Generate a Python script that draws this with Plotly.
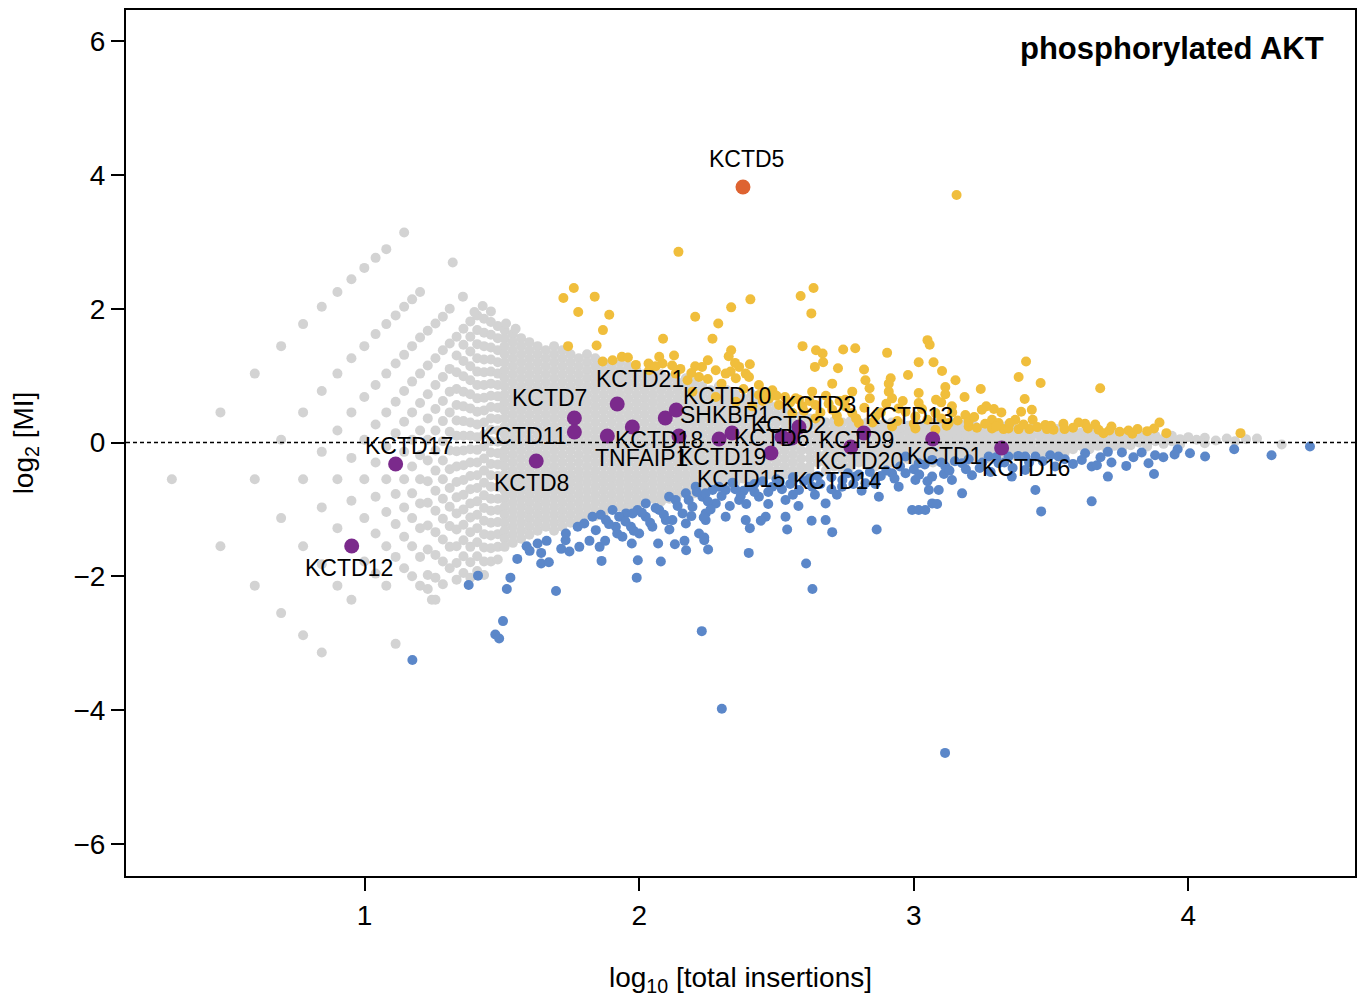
import plotly.graph_objects as go

FONT = "Liberation Sans, Arial, sans-serif"

# ---------------- grey (non-significant) genes, read column by column ----------------
grey_col_x = [0.298, 0.475, 0.600, 0.696, 0.776, 0.844, 0.901, 0.952, 0.999, 1.040,
              1.079, 1.113, 1.144, 1.173, 1.202,
              1.230, 1.258, 1.285, 1.310, 1.335, 1.360, 1.385, 1.410, 1.435, 1.460, 1.485,
              1.51, 1.54, 1.57, 1.60, 1.63, 1.66, 1.69, 1.72, 1.75, 1.78,
              1.81, 1.84, 1.87, 1.90, 1.93, 1.96, 1.99, 2.02, 2.05, 2.08,
              2.11, 2.14, 2.17, 2.20, 2.23, 2.26, 2.29, 2.32, 2.35, 2.38,
              2.41, 2.44, 2.47, 2.50, 2.53, 2.56, 2.59, 2.62, 2.65, 2.68,
              2.71, 2.74, 2.77, 2.80, 2.83,
              2.86, 2.89, 2.92, 2.95, 2.98, 3.01, 3.04, 3.07, 3.10, 3.13,
              3.16, 3.19, 3.22, 3.25, 3.28, 3.31, 3.34, 3.37, 3.40, 3.43,
              3.46, 3.49, 3.52, 3.55, 3.58, 3.61, 3.64, 3.67, 3.70, 3.73,
              3.76, 3.79, 3.82, 3.85, 3.88, 3.91, 3.94, 3.97, 4.00, 4.03,
              4.06, 4.10, 4.14, 4.17, 4.21, 4.25, 4.34]
grey_col_y = [
    [-0.55],
    [0.45, -1.55],
    [1.03, -0.55, -2.14],
    [1.44, 0.04, -1.13, -2.55],
    [1.77, 0.45, -0.55, -1.55, -2.88],
    [2.03, 0.77, -0.14, -0.97, -1.82, -3.14],
    [2.25, 1.03, 0.18, -0.55, -1.28, -2.14],
    [2.44, 1.26, 0.45, -0.23, -0.87, -2.35],
    [2.61, 1.44, 0.68, 0.04, -0.55, -1.13, -1.78],
    [2.76, 1.62, 0.86, 0.27, -0.30, -0.81, -1.36, -1.96],
    [2.89, 1.77, 1.03, 0.45, -0.06, -0.55, -1.04, -1.55, -2.14],
    [1.90, 1.18, 0.61, 0.14, -0.77, -1.22, -1.71, -3.01],
    [3.14, 2.03, 1.31, 0.77, 0.31, -0.14, -0.55, -0.97, -1.41, -1.88],
    [2.14, 1.44, 0.91, 0.45, 0.04, -0.36, -0.76, -1.13, -1.55, -2.00],
    [2.25, 1.57, 1.03, 0.59, 0.18, -0.19, -0.55, -0.91, -1.28, -1.71, -2.14],
    [1.67, 1.15, 0.72, 0.36, 0.04, -0.27, -0.58, -0.90, -1.24, -1.60, -1.98, -2.19],
    [1.78, 1.26, 0.86, 0.50, 0.18, -0.12, -0.42, -0.72, -1.02, -1.34, -1.68, -2.02, -2.35],
    [1.88, 1.38, 0.98, 0.62, 0.32, 0.02, -0.27, -0.55, -0.84, -1.14, -1.45, -1.78, -2.12],
    [2.00, 1.48, 1.10, 0.76, 0.45, 0.16, -0.12, -0.40, -0.68, -0.96, -1.25, -1.56, -1.88],
    [1.58, 1.30, 1.05, 0.80, 0.56, 0.33, 0.10, -0.13, -0.36, -0.59, -0.82, -1.06, -1.30, -1.55, -1.80, -2.05],
    [1.70, 1.46, 1.22, 0.99, 0.76, 0.54, 0.32, 0.10, -0.12, -0.34, -0.56, -0.78, -1.00, -1.23, -1.46, -1.70, -1.95],
    [1.81, 1.58, 1.36, 1.14, 0.93, 0.72, 0.51, 0.30, 0.10, -0.10, -0.30, -0.50, -0.70, -0.91, -1.12, -1.34, -1.56, -1.79, -2.02],
    [1.90, 1.68, 1.47, 1.26, 1.06, 0.86, 0.66, 0.46, 0.27, 0.08, -0.11, -0.30, -0.49, -0.68, -0.88, -1.08, -1.28, -1.49, -1.70, -1.92],
    [1.85, 1.64, 1.44, 1.24, 1.05, 0.86, 0.67, 0.48, 0.30, 0.12, -0.06, -0.24, -0.42, -0.60, -0.79, -0.98, -1.17, -1.37, -1.57, -1.78, -1.98],
    [1.80, 1.61, 1.42, 1.24, 1.06, 0.88, 0.70, 0.53, 0.36, 0.19, 0.02, -0.15, -0.32, -0.49, -0.66, -0.84, -1.02, -1.20, -1.39, -1.58, -1.78],
    [1.74, 1.56, 1.38, 1.20, 1.03, 0.86, 0.69, 0.52, 0.35, 0.18, 0.01, -0.16, -0.33, -0.50, -0.67, -0.84, -1.01, -1.19, -1.37, -1.56, -1.75],
    [1.68, 1.56, 1.44, 1.32, 1.2, 1.08, 0.96, 0.84, 0.72, 0.6, 0.48, 0.36, 0.24, 0.12, 0, -0.12, -0.24, -0.36, -0.48, -0.6, -0.72, -0.84, -0.96, -1.08, -1.2, -1.32, -1.44, -1.56],
    [1.62, 1.5, 1.38, 1.26, 1.14, 1.02, 0.9, 0.78, 0.66, 0.54, 0.42, 0.3, 0.18, 0.06, -0.06, -0.18, -0.3, -0.42, -0.54, -0.66, -0.78, -0.9, -1.02, -1.14, -1.26, -1.38, -1.5],
    [1.56, 1.44, 1.32, 1.2, 1.08, 0.96, 0.84, 0.72, 0.6, 0.48, 0.36, 0.24, 0.12, 0, -0.12, -0.24, -0.36, -0.48, -0.6, -0.72, -0.84, -0.96, -1.08, -1.2, -1.32, -1.44],
    [1.5, 1.38, 1.26, 1.14, 1.02, 0.9, 0.78, 0.66, 0.54, 0.42, 0.3, 0.18, 0.06, -0.06, -0.18, -0.3, -0.42, -0.54, -0.66, -0.78, -0.9, -1.02, -1.14, -1.26, -1.38],
    [1.44, 1.32, 1.2, 1.08, 0.96, 0.84, 0.72, 0.6, 0.48, 0.36, 0.24, 0.12, 0, -0.12, -0.24, -0.36, -0.48, -0.6, -0.72, -0.84, -0.96, -1.08, -1.2, -1.32],
    [1.38, 1.26, 1.14, 1.02, 0.9, 0.78, 0.66, 0.54, 0.42, 0.3, 0.18, 0.06, -0.06, -0.18, -0.3, -0.42, -0.54, -0.66, -0.78, -0.9, -1.02, -1.14, -1.26],
    [1.44, 1.32, 1.2, 1.08, 0.96, 0.84, 0.72, 0.6, 0.48, 0.36, 0.24, 0.12, 0, -0.12, -0.24, -0.36, -0.48, -0.6, -0.72, -0.84, -0.96, -1.08, -1.2, -1.32],
    [1.38, 1.26, 1.14, 1.02, 0.9, 0.78, 0.66, 0.54, 0.42, 0.3, 0.18, 0.06, -0.06, -0.18, -0.3, -0.42, -0.54, -0.66, -0.78, -0.9, -1.02, -1.14, -1.26],
    [1.32, 1.2, 1.08, 0.96, 0.84, 0.72, 0.6, 0.48, 0.36, 0.24, 0.12, 0, -0.12, -0.24, -0.36, -0.48, -0.6, -0.72, -0.84, -0.96, -1.08, -1.2],
    [1.26, 1.14, 1.02, 0.9, 0.78, 0.66, 0.54, 0.42, 0.3, 0.18, 0.06, -0.06, -0.18, -0.3, -0.42, -0.54, -0.66, -0.78, -0.9, -1.02, -1.14],
    [1.32, 1.2, 1.08, 0.96, 0.84, 0.72, 0.6, 0.48, 0.36, 0.24, 0.12, 0, -0.12, -0.24, -0.36, -0.48, -0.6, -0.72, -0.84, -0.96, -1.08],
    [1.26, 1.14, 1.02, 0.9, 0.78, 0.66, 0.54, 0.42, 0.3, 0.18, 0.06, -0.06, -0.18, -0.3, -0.42, -0.54, -0.66, -0.78, -0.9, -1.02, -1.1],
    [1.2, 1.08, 0.96, 0.84, 0.72, 0.6, 0.48, 0.36, 0.24, 0.12, 0, -0.12, -0.24, -0.36, -0.48, -0.6, -0.72, -0.84, -0.96, -1.06],
    [1.14, 1.02, 0.9, 0.78, 0.66, 0.54, 0.42, 0.3, 0.18, 0.06, -0.06, -0.18, -0.3, -0.42, -0.54, -0.66, -0.78, -0.9, -1.0],
    [1.2, 1.08, 0.96, 0.84, 0.72, 0.6, 0.48, 0.36, 0.24, 0.12, 0, -0.12, -0.24, -0.36, -0.48, -0.6, -0.72, -0.84, -0.96],
    [1.14, 1.02, 0.9, 0.78, 0.66, 0.54, 0.42, 0.3, 0.18, 0.06, -0.06, -0.18, -0.3, -0.42, -0.54, -0.66, -0.78, -0.9, -0.98],
    [1.08, 0.96, 0.84, 0.72, 0.6, 0.48, 0.36, 0.24, 0.12, 0, -0.12, -0.24, -0.36, -0.48, -0.6, -0.72, -0.84, -0.94],
    [1.02, 0.9, 0.78, 0.66, 0.54, 0.42, 0.3, 0.18, 0.06, -0.06, -0.18, -0.3, -0.42, -0.54, -0.66, -0.78, -0.9],
    [1.08, 0.96, 0.84, 0.72, 0.6, 0.48, 0.36, 0.24, 0.12, 0, -0.12, -0.24, -0.36, -0.48, -0.6, -0.72, -0.84],
    [1.02, 0.9, 0.78, 0.66, 0.54, 0.42, 0.3, 0.18, 0.06, -0.06, -0.18, -0.3, -0.42, -0.54, -0.66, -0.78, -0.88],
    [0.96, 0.84, 0.72, 0.6, 0.48, 0.36, 0.24, 0.12, 0, -0.12, -0.24, -0.36, -0.48, -0.6, -0.72, -0.84],
    [0.9, 0.78, 0.66, 0.54, 0.42, 0.3, 0.18, 0.06, -0.06, -0.18, -0.3, -0.42, -0.54, -0.66, -0.78],
    [0.96, 0.84, 0.72, 0.6, 0.48, 0.36, 0.24, 0.12, 0, -0.12, -0.24, -0.36, -0.48, -0.6, -0.72],
    [0.9, 0.78, 0.66, 0.54, 0.42, 0.3, 0.18, 0.06, -0.06, -0.18, -0.3, -0.42, -0.54, -0.66, -0.76],
    [0.84, 0.72, 0.6, 0.48, 0.36, 0.24, 0.12, 0, -0.12, -0.24, -0.36, -0.48, -0.6, -0.72],
    [0.78, 0.66, 0.54, 0.42, 0.3, 0.18, 0.06, -0.06, -0.18, -0.3, -0.42, -0.54, -0.66],
    [0.84, 0.72, 0.6, 0.48, 0.36, 0.24, 0.12, 0, -0.12, -0.24, -0.36, -0.48, -0.6],
    [0.78, 0.66, 0.54, 0.42, 0.3, 0.18, 0.06, -0.06, -0.18, -0.3, -0.42, -0.54, -0.64],
    [0.72, 0.6, 0.48, 0.36, 0.24, 0.12, 0, -0.12, -0.24, -0.36, -0.48, -0.6],
    [0.66, 0.54, 0.42, 0.3, 0.18, 0.06, -0.06, -0.18, -0.3, -0.42, -0.54],
    [0.72, 0.6, 0.48, 0.36, 0.24, 0.12, 0, -0.12, -0.24, -0.36, -0.48, -0.58],
    [0.66, 0.54, 0.42, 0.3, 0.18, 0.06, -0.06, -0.18, -0.3, -0.42, -0.54],
    [0.6, 0.48, 0.36, 0.24, 0.12, 0, -0.12, -0.24, -0.36, -0.48],
    [0.54, 0.42, 0.3, 0.18, 0.06, -0.06, -0.18, -0.3, -0.42, -0.52],
    [0.5, 0.4, 0.3, 0.2, 0.1, 0, -0.12, -0.24, -0.36, -0.48],
    [0.42, 0.3, 0.18, 0.06, -0.06, -0.18, -0.3, -0.42],
    [0.4, 0.3, 0.2, 0.1, 0, -0.12, -0.24, -0.36, -0.46],
    [0.36, 0.24, 0.12, 0, -0.12, -0.24, -0.36, -0.42],
    [0.34, 0.24, 0.14, 0.04, -0.06, -0.18, -0.3],
    [0.3, 0.18, 0.06, -0.06, -0.18, -0.3, -0.42],
    [0.32, 0.22, 0.12, 0, -0.12, -0.24, -0.36],
    [0.3, 0.18, 0.06, -0.06, -0.18, -0.3, -0.4],
    [0.32, 0.22, 0.12, 0, -0.12, -0.24, -0.36],
    [0.3, 0.18, 0.06, -0.06, -0.18, -0.3],
    [0.3, 0.2, 0.1, 0, -0.12, -0.24, -0.34],
    [0.3, 0.2, 0.1, 0.0, -0.1, -0.2, -0.3, -0.36],
    [0.28, 0.18, 0.08, -0.02, -0.12, -0.22, -0.32],
    [0.3, 0.2, 0.1, 0.0, -0.1, -0.2, -0.3],
    [0.28, 0.18, 0.08, -0.02, -0.12, -0.22, -0.32],
    [0.25, 0.15, 0.05, -0.05, -0.15, -0.25],
    [0.3, 0.2, 0.1, 0, -0.1, -0.2, -0.3],
    [0.25, 0.15, 0.05, -0.05, -0.15, -0.25],
    [0.3, 0.2, 0.1, 0, -0.1, -0.2, -0.3],
    [0.25, 0.15, 0.05, -0.05, -0.15, -0.25],
    [0.28, 0.2, 0.1, 0, -0.1, -0.2, -0.28],
    [0.25, 0.15, 0.05, -0.05, -0.15, -0.25],
    [0.28, 0.2, 0.1, 0, -0.1, -0.2, -0.28],
    [0.25, 0.15, 0.05, -0.05, -0.15, -0.25],
    [0.2, 0.1, 0, -0.1, -0.2],
    [0.25, 0.15, 0.05, -0.05, -0.15, -0.25],
    [0.2, 0.1, 0, -0.1, -0.2],
    [0.25, 0.15, 0.05, -0.05, -0.15],
    [0.2, 0.1, 0, -0.1, -0.2],
    [0.25, 0.15, 0.05, -0.05, -0.15],
    [0.2, 0.1, 0, -0.1],
    [0.2, 0.1, 0, -0.1, -0.18],
    [0.15, 0.05, -0.05, -0.15],
    [0.2, 0.1, 0, -0.1],
    [0.15, 0.05, -0.05, -0.15],
    [0.2, 0.1, 0, -0.1],
    [0.15, 0.05, -0.05],
    [0.2, 0.1, 0, -0.1],
    [0.15, 0.05, -0.05],
    [0.1, 0, -0.08],
    [0.15, 0.05, -0.05],
    [0.1, 0, -0.08],
    [0.12, 0.04, -0.04],
    [0.1, 0],
    [0.08, 0, -0.06],
    [0.1, 0.02],
    [0.06, -0.02],
    [0.1, 0.02],
    [0.05, -0.03],
    [0.08],
    [0.04],
    [0.07, -0.01],
    [0.03],
    [0.06],
    [0.02],
    [0.05],
    [0.06],
    [-0.03],
]
grey_extra_points = [(1.321, 2.69), (1.358, 2.18), (1.40, 1.95), (1.43, 2.04), (1.46, 1.96),
                     (1.515, 1.78), (1.55, 1.70), (1.245, -2.35)]

# ---------------- significant, positive (yellow) ----------------
yellow_points = [
    (1.724, 2.16), (1.762, 2.31), (1.838, 2.18), (1.778, 1.95), (1.891, 1.91), (1.868, 1.68),
    (1.741, 1.44), (1.845, 1.45), (1.903, 1.23), (1.937, 1.28), (1.959, 1.27), (2.034, 1.18),
    (2.073, 1.28), (2.087, 1.55), (2.127, 1.30), (2.143, 2.85), (2.204, 1.88), (2.288, 1.78),
    (2.335, 2.02), (2.405, 2.14), (2.267, 1.55), (2.335, 1.38), (2.326, 1.29), (2.250, 1.23),
    (2.403, 1.17), (2.588, 2.19), (2.635, 2.31), (2.627, 1.93), (2.595, 1.44), (2.644, 1.38),
    (2.668, 1.33), (2.670, 1.20), (2.743, 1.39), (2.787, 1.41), (2.903, 1.34), (2.640, 1.13),
    (2.349, 1.19), (2.229, 1.13), (2.204, 1.14), (2.724, 1.11), (2.819, 1.09), (3.156, 3.70),
    (3.050, 1.53), (3.058, 1.46), (3.018, 1.20), (3.072, 1.20), (2.916, 0.96), (2.979, 1.01),
    (3.103, 1.07), (3.152, 0.93), (3.244, 0.80), (3.115, 0.83), (3.185, 0.68), (3.264, 0.54),
    (3.292, 0.50), (3.018, 0.74), (3.081, 0.64), (2.909, 0.76), (2.824, 0.93), (2.333, 1.06),
    (2.388, 1.03), (3.409, 1.21), (3.382, 0.98), (3.462, 0.89), (3.404, 0.65), (3.679, 0.81),
    (3.391, 0.46), (3.430, 0.49), (3.433, 0.34), (3.319, 0.45), (3.285, 0.34), (3.309, 0.29),
    (3.327, 0.20), (3.382, 0.20), (3.421, 0.20), (3.479, 0.26), (3.485, 0.20), (3.509, 0.19),
    (3.545, 0.28), (3.549, 0.20), (3.624, 0.28), (3.634, 0.21), (3.661, 0.27), (3.673, 0.19),
    (3.691, 0.14), (3.712, 0.18), (3.782, 0.18), (3.796, 0.13), (3.815, 0.20), (3.875, 0.21),
    (3.895, 0.30), (4.190, 0.14), (3.115, 0.72), (2.909, 0.88), (2.921, 0.66), (2.839, 0.81),
    (2.776, 0.76), (2.703, 0.88), (2.630, 0.76), (2.582, 0.64), (2.531, 0.68), (2.485, 0.78),
    (2.436, 0.86), (2.400, 0.98), (2.364, 1.13), (2.352, 0.96), (2.315, 1.03), (2.279, 1.08),
    (2.218, 0.98), (2.176, 0.93), (2.133, 1.03), (2.085, 1.18), (2.036, 1.08), (1.988, 1.16),
    (1.867, 1.21), (2.436, 0.71), (2.473, 0.66), (2.509, 0.56), (2.594, 0.54), (2.642, 0.56),
    (2.703, 0.49), (2.751, 0.54), (2.776, 0.44), (2.861, 0.39), (2.945, 0.51), (3.006, 0.39),
    (3.018, 0.59), (3.079, 0.44), (3.139, 0.54), (3.188, 0.41), (3.248, 0.49), (3.127, 0.29),
    (3.200, 0.24), (3.285, 0.21), (3.345, 0.21), (3.370, 0.34), (2.921, 0.24), (3.006, 0.21),
    (3.079, 0.19), (2.727, 0.31), (2.800, 0.29), (2.642, 0.36), (2.558, 0.44), (2.412, 0.54),
    (2.352, 0.61), (2.279, 0.68), (2.194, 0.76),
    (2.45, 0.62), (2.50, 0.70), (2.55, 0.60), (2.60, 0.47), (2.62, 0.62), (2.66, 0.45),
    (2.69, 0.58), (2.72, 0.40), (2.75, 0.64), (2.79, 0.36), (2.82, 0.52), (2.85, 0.30),
    (2.88, 0.45), (2.90, 0.58), (2.94, 0.32), (2.97, 0.46), (3.00, 0.28), (3.03, 0.50),
    (3.05, 0.34), (3.10, 0.36), (3.12, 0.25), (3.16, 0.33), (3.20, 0.31), (3.23, 0.22),
    (3.26, 0.28), (3.30, 0.24), (3.35, 0.29), (3.40, 0.27), (3.45, 0.23), (3.50, 0.25),
    (3.58, 0.22), (3.60, 0.30), (3.72, 0.24), (3.75, 0.16), (3.85, 0.17), (3.92, 0.14),
    (2.30, 0.88), (2.25, 0.95), (2.38, 0.80), (2.46, 0.74), (2.57, 0.66), (2.68, 0.70),
    (2.73, 0.62), (2.84, 0.66), (2.96, 0.62), (3.14, 0.45), (3.22, 0.38), (3.10, 0.60),
    (2.15, 1.10), (2.19, 1.04), (2.12, 1.15), (2.06, 1.14),
]

# ---------------- significant, negative (blue) ----------------
blue_points = [
    (1.174, -3.25), (1.379, -2.13), (1.413, -1.99), (1.531, -2.02), (1.518, -2.19), (1.504, -2.67),
    (1.476, -2.87), (1.490, -2.93), (1.556, -1.74), (1.590, -1.55), (1.601, -1.62), (1.643, -1.65),
    (1.643, -1.81), (1.671, -1.79), (1.697, -2.22), (1.716, -1.59), (1.746, -1.63), (1.663, -1.47),
    (1.732, -1.46), (1.819, -1.47), (1.856, -1.56), (1.863, -1.77), (1.876, -1.47), (1.973, -1.51),
    (1.995, -1.76), (1.991, -2.02), (2.069, -1.51), (2.079, -1.78), (2.130, -1.52), (2.171, -1.61),
    (2.251, -1.60), (2.165, -1.47), (2.237, -1.46), (2.228, -2.82), (2.399, -1.65), (2.608, -1.81),
    (2.631, -2.19), (2.301, -3.98), (3.114, -4.64),
    (1.630, -1.51), (1.733, -1.36), (1.776, -1.26), (1.800, -1.21), (1.830, -1.11), (1.842, -1.31),
    (1.879, -1.16), (1.903, -1.01), (1.915, -1.26), (1.939, -1.41), (1.952, -1.06), (1.970, -1.26),
    (1.994, -1.01), (2.000, -1.36), (2.024, -1.11), (2.048, -1.26), (2.073, -1.01), (2.109, -0.81),
    (2.121, -1.16), (2.133, -0.86), (2.158, -1.06), (2.170, -0.76), (2.194, -0.96), (2.206, -0.66),
    (2.230, -0.81), (2.242, -1.06), (2.267, -0.71), (2.279, -0.91), (2.242, -0.76), (2.218, -1.36),
    (1.782, -1.56), (1.927, -1.11), (1.976, -1.06), (2.024, -0.91), (2.097, -1.16), (2.170, -1.21),
    (2.242, -1.16),
    (2.970, -0.21), (3.018, -0.31), (3.067, -0.26), (3.115, -0.36), (3.176, -0.31), (3.212, -0.49),
    (3.139, -0.56), (3.067, -0.51), (3.006, -0.56), (3.091, -0.71), (3.176, -0.76), (3.067, -0.91),
    (2.994, -1.01), (3.018, -1.01), (3.042, -1.01), (2.945, -0.66), (2.921, -0.46), (2.861, -0.54),
    (2.873, -0.81), (2.824, -0.61), (2.788, -0.51), (2.739, -0.66), (2.679, -0.91), (2.630, -0.66),
    (2.582, -0.71), (2.533, -0.86), (2.485, -0.66), (2.436, -0.81), (2.400, -0.66), (2.364, -0.86),
    (2.315, -0.71), (2.679, -1.16), (2.533, -1.11), (2.461, -1.11), (2.388, -1.16), (2.315, -1.11),
    (2.539, -1.30), (2.403, -1.28), (2.443, -1.17), (2.628, -1.17), (2.703, -1.34), (2.865, -1.30),
    (3.085, -0.92), (3.110, -0.47), (3.055, -0.71), (2.235, -1.12), (2.237, -1.42),
    (3.273, -0.21), (3.357, -0.51), (3.406, -0.41), (3.443, -0.71), (3.464, -1.03), (3.497, -0.19),
    (3.515, -0.36), (3.527, -0.21), (3.612, -0.26), (3.624, -0.16), (3.648, -0.36), (3.667, -0.34),
    (3.648, -0.88), (3.707, -0.51), (3.707, -0.14), (3.758, -0.15), (3.774, -0.35), (3.830, -0.15),
    (3.855, -0.31), (3.875, -0.47), (3.879, -0.19), (3.909, -0.22), (3.961, -0.10), (4.006, -0.16),
    (4.061, -0.21), (4.167, -0.10), (4.303, -0.19), (4.443, -0.06), (3.345, -0.21), (3.406, -0.21),
    (3.443, -0.21), (3.309, -0.31),
    (2.34, -0.60), (2.38, -0.72), (2.45, -0.58), (2.50, -0.55), (2.52, -0.70), (2.56, -0.52),
    (2.60, -0.58), (2.65, -0.50), (2.70, -0.52), (2.72, -0.78), (2.76, -0.46), (2.80, -0.48),
    (2.84, -0.44), (2.90, -0.42), (2.95, -0.36), (3.00, -0.40), (3.04, -0.33), (3.10, -0.30),
    (3.15, -0.28), (3.20, -0.25), (3.25, -0.30), (3.30, -0.22), (3.38, -0.20),
    (1.86, -1.08), (1.89, -1.22), (1.92, -1.36), (1.95, -1.18), (1.98, -1.32), (2.01, -1.05),
    (2.04, -1.20), (2.06, -0.98), (2.09, -1.08), (2.11, -1.30), (2.14, -0.95), (2.18, -0.86),
    (2.19, -1.10), (2.21, -0.74), (2.25, -0.88), (2.26, -1.00), (2.29, -0.66), (2.30, -0.80),
    (2.33, -0.95), (2.35, -0.70), (2.37, -0.80), (2.39, -0.92), (2.42, -0.62), (2.42, -0.74),
    (2.47, -0.74), (2.47, -0.92), (2.51, -0.62), (2.55, -0.62), (2.56, -0.78), (2.58, -0.95),
    (2.62, -0.54), (2.64, -0.78), (2.66, -0.62), (2.70, -0.70), (2.74, -0.56), (2.78, -0.62),
    (2.81, -0.72), (2.86, -0.62), (2.88, -0.50), (2.93, -0.54), (2.97, -0.46), (3.02, -0.48),
    (3.05, -0.58), (3.13, -0.42), (3.19, -0.40), (3.24, -0.38), (3.28, -0.44), (3.33, -0.30),
    (3.36, -0.38), (3.42, -0.30), (3.47, -0.28), (3.55, -0.25), (3.58, -0.32), (3.68, -0.22),
    (3.72, -0.30), (3.80, -0.22), (3.95, -0.18),
]

# ---------------- highlighted KCTD family members ----------------
kctd_names = ["KCTD12", "KCTD17", "KCTD8", "KCTD7", "KCTD11", "KCTD21", "TNFAIP1", "KCTD18",
              "SHKBP1", "KCTD10", "KCTD19", "KCTD15", "KCTD6", "KCTD14", "KCTD2", "KCTD9",
              "KCTD3", "KCTD20", "KCTD13", "KCTD1", "KCTD16"]
kctd_x = [0.953, 1.113, 1.625, 1.764, 1.764, 1.920, 1.884, 1.975,
          2.095, 2.135, 2.145, 2.291, 2.338, 2.480, 2.520, 2.556,
          2.582, 2.771, 2.818, 3.069, 3.320]
kctd_y = [-1.547, -0.321, -0.277, 0.366, 0.157, 0.575, 0.097, 0.232,
          0.366, 0.486, 0.097, 0.052, 0.142, -0.157, 0.082, 0.067,
          0.232, -0.067, 0.142, 0.052, -0.082]
# label placement offsets (pixels) relative to each point
label_dx = [-3, 13, -5, -25, -51, 23, 34, 27, 60, 51, 43, 22, 40, 66, 7, 65, 20, 8, 45, 12, 24]
label_dy = [-22, 18, -22, 20, -4, 25, -22, -13, 3, 14, -21, -40, -5, -28, 12, -2, 22, -14, 17, -17, -20]

top_name = "KCTD5"
top_x = 2.378
top_y = 3.819

# ---------------- build ----------------
grey_x, grey_y = [], []
for cx, ys in zip(grey_col_x, grey_col_y):
    for v in ys:
        grey_x.append(cx)
        grey_y.append(v)
grey_x += [p[0] for p in grey_extra_points]
grey_y += [p[1] for p in grey_extra_points]

fig = go.Figure()
fig.add_trace(go.Scatter(x=grey_x, y=grey_y, mode="markers",
                         marker=dict(size=10, color="#D3D3D3"), hoverinfo="skip"))
fig.add_trace(go.Scatter(x=[p[0] for p in yellow_points], y=[p[1] for p in yellow_points],
                         mode="markers", marker=dict(size=10, color="#F0BE3C"), hoverinfo="skip"))
fig.add_trace(go.Scatter(x=[p[0] for p in blue_points], y=[p[1] for p in blue_points],
                         mode="markers", marker=dict(size=10, color="#5B87C9"), hoverinfo="skip"))
fig.add_trace(go.Scatter(x=kctd_x, y=kctd_y, mode="markers",
                         marker=dict(size=15, color="#7B2A8C"), hoverinfo="skip"))
fig.add_trace(go.Scatter(x=[top_x], y=[top_y], mode="markers",
                         marker=dict(size=15, color="#DE6331"), hoverinfo="skip"))

annotations = []
for name, x, y, dx, dy in zip(kctd_names, kctd_x, kctd_y, label_dx, label_dy):
    annotations.append(dict(x=x, y=y, xref="x", yref="y", text=name, showarrow=False,
                            xshift=dx, yshift=dy, font=dict(family=FONT, size=23, color="black")))
annotations.append(dict(x=top_x, y=top_y, xref="x", yref="y", text=top_name, showarrow=False,
                        xshift=4, yshift=28, font=dict(family=FONT, size=23, color="black")))
annotations.append(dict(x=0.9765, y=0.955, xref="paper", yref="paper", xanchor="right",
                        yanchor="middle", text="<b>phosphorylated AKT</b>", showarrow=False,
                        font=dict(family=FONT, size=31, color="black")))

fig.update_layout(
    width=1364, height=1004,
    margin=dict(l=126, r=7, t=10, b=128),
    paper_bgcolor="white", plot_bgcolor="white",
    showlegend=False,
    annotations=annotations,
    shapes=[dict(type="line", xref="paper", x0=0, x1=1, yref="y", y0=0, y1=0,
                 line=dict(color="black", width=1.5, dash="4px,3px"), layer="above")],
    font=dict(family=FONT, color="black"),
    hovermode=False,
)
fig.update_xaxes(range=[0.131, 4.607], tickvals=[1, 2, 3, 4], ticks="outside", ticklen=13,
                 tickwidth=1.5, tickcolor="black", showline=True, linecolor="black",
                 linewidth=2, mirror=True, showgrid=False, zeroline=False,
                 tickfont=dict(family=FONT, size=28, color="black"),
                 title=dict(text="log<sub>10</sub> [total insertions]",
                            font=dict(family=FONT, size=28, color="black"), standoff=38))
fig.update_yaxes(range=[-6.48, 6.465], tickvals=[-6, -4, -2, 0, 2, 4, 6], ticks="outside",
                 ticklen=13, tickwidth=1.5, tickcolor="black", showline=True, linecolor="black",
                 linewidth=2, mirror=True, showgrid=False, zeroline=False,
                 tickfont=dict(family=FONT, size=28, color="black"),
                 title=dict(text="log<sub>2</sub> [MI]",
                            font=dict(family=FONT, size=28, color="black"), standoff=32))

fig.write_html("out.html", config=dict(displayModeBar=False))
